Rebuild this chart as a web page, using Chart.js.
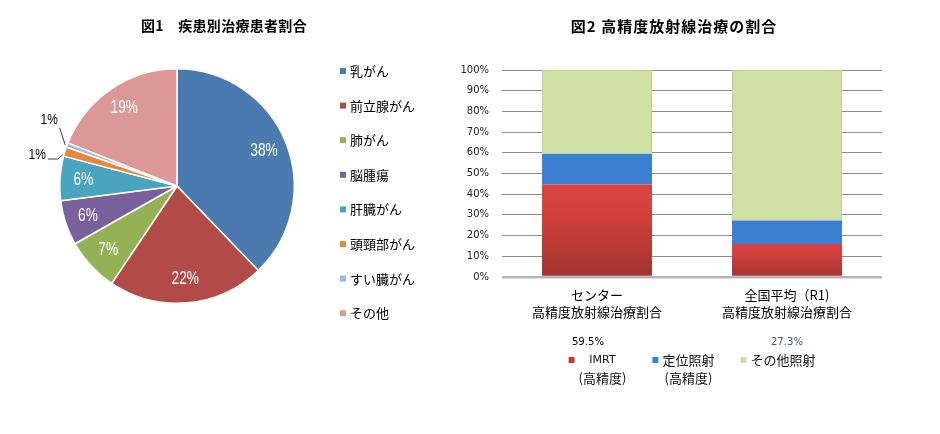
<!DOCTYPE html>
<html><head><meta charset="utf-8">
<script src="https://cdn.jsdelivr.net/npm/chart.js@4.4.1/dist/chart.umd.min.js"></script>
<style>
html,body{margin:0;padding:0;background:#fff;width:940px;height:434px;overflow:hidden;}
#pieBox{position:absolute;left:0;top:0;width:440px;height:434px;}
#barBox{position:absolute;left:440px;top:0;width:500px;height:434px;}
</style></head><body>
<div id="pieBox"><canvas id="pie"></canvas></div>
<div id="barBox"><canvas id="bar"></canvas></div>
<script>
// ---- data ----
const pieTitle = '図1　疾患別治療患者割合';
const pieLabels = ['乳がん','前立腺がん','肺がん','脳腫瘍','肝臓がん','頭頸部がん','すい臓がん','その他'];
const pieValues = [37.8, 21.6, 7.4, 6.2, 6.1, 1.3, 0.6, 19.0];

const barTitle = '図2 高精度放射線治療の割合';
const barCategories = [['センター','高精度放射線治療割合'], ['全国平均（R1)','高精度放射線治療割合']];
const seriesNames = [['IMRT','(高精度)'], ['定位照射','(高精度)'], ['その他照射']];
const imrtValues = [44.7, 16.0];
const stereoValues = [14.8, 11.3];
const otherValues = [40.5, 72.7];
const yTickMin = 0, yTickMax = 100, yTickStep = 10;

// ---- styles ----
const CJK = "'Noto Sans CJK JP', sans-serif";
const LAB = "'Liberation Sans', Arial, sans-serif";
const pieColors = ['#4a7ab0','#b24b48','#94b156','#77609b','#4aa4bf','#e9873c','#9db7de','#dc9896'];
const barColors = ['#c43c37','#3a7fd2','#cfe0a4'];

Chart.defaults.font.family = CJK;

function narrowText(ctx, txt, x, y, sx) {
  ctx.save();
  ctx.translate(x, y);
  ctx.scale(sx, 1);
  ctx.fillText(txt, 0, 0);
  ctx.restore();
}

// ---- pie chart ----
const pieDecor = {
  id: 'pieDecor',
  afterDatasetsDraw(chart) {
    const ctx = chart.ctx;
    const meta = chart.getDatasetMeta(0);
    const vals = chart.data.datasets[0].data;
    ctx.save();
    let smallIdx = 0;
    meta.data.forEach((arc, i) => {
      const p = arc.getProps(['x','y','startAngle','endAngle','outerRadius'], true);
      const mid = (p.startAngle + p.endAngle) / 2;
      const txt = Math.round(vals[i]) + '%';
      if (vals[i] >= 3) {
        const r = p.outerRadius * 0.8;
        ctx.fillStyle = '#fff';
        ctx.font = '18px ' + LAB;
        ctx.textAlign = 'center';
        ctx.textBaseline = 'middle';
        narrowText(ctx, txt, p.x + Math.cos(mid) * r, p.y + Math.sin(mid) * r, 0.76);
      } else {
        const ex = p.x + Math.cos(mid) * p.outerRadius;
        const ey = p.y + Math.sin(mid) * p.outerRadius;
        ctx.strokeStyle = '#404040';
        ctx.lineWidth = 1;
        ctx.fillStyle = '#000';
        ctx.font = '15px ' + LAB;
        ctx.textBaseline = 'middle';
        ctx.beginPath();
        if (smallIdx === 0) {
          ctx.moveTo(ex - 2, ey + 3);
          ctx.lineTo(ex - 7, ey + 7.5);
          ctx.lineTo(ex - 17, ey + 7.5);
          ctx.stroke();
          ctx.textAlign = 'right';
          narrowText(ctx, txt, ex - 19, ey + 3.5, 0.8);
        } else {
          ctx.moveTo(ex - 2, ey);
          ctx.lineTo(ex - 7.5, ey - 17);
          ctx.stroke();
          ctx.textAlign = 'center';
          narrowText(ctx, txt, ex - 18, ey - 25, 0.8);
        }
        smallIdx++;
      }
    });
    // legend
    ctx.textAlign = 'left';
    ctx.textBaseline = 'middle';
    ctx.font = '13px ' + CJK;
    chart.data.labels.forEach((lab, i) => {
      const y = 71 + i * 34.6;
      ctx.fillStyle = pieColors[i];
      ctx.fillRect(340, y - 3, 6, 6);
      ctx.fillStyle = '#000';
      ctx.fillText(lab, 350, y);
    });
    // title
    ctx.font = 'bold 14px ' + CJK;
    ctx.letterSpacing = '0.3px';
    ctx.textAlign = 'center';
    ctx.fillStyle = '#000';
    ctx.fillText(pieTitle, 224, 26);
    ctx.restore();
  }
};

new Chart(document.getElementById('pie'), {
  type: 'pie',
  data: { labels: pieLabels, datasets: [{ data: pieValues, backgroundColor: pieColors, borderColor: '#ffffff', borderWidth: 1.5, hoverOffset: 0 }] },
  options: {
    responsive: true, maintainAspectRatio: false, animation: false, events: [],
    layout: { padding: { left: 59, right: 440 - 59 - 236, top: 68, bottom: 434 - 68 - 236 } },
    plugins: { legend: { display: false }, tooltip: { enabled: false }, title: { display: false } }
  },
  plugins: [pieDecor]
});

// ---- bar chart ----
function redGradient(c) {
  const chart = c.chart;
  if (c.type !== 'data' || !chart.chartArea || !chart.scales.y) return barColors[0];
  const ys = chart.scales.y;
  const top = ys.getPixelForValue(c.raw);
  const bottom = ys.getPixelForValue(0);
  if (!isFinite(top) || !isFinite(bottom) || top === bottom) return barColors[0];
  const g = chart.ctx.createLinearGradient(0, top, 0, bottom);
  g.addColorStop(0, '#da443f');
  g.addColorStop(0.3, '#d3413c');
  g.addColorStop(1, '#a23431');
  return g;
}

const barDecor = {
  id: 'barDecor',
  afterDraw(chart) {
    const ctx = chart.ctx;
    const ca = chart.chartArea;
    const xs = chart.scales.x;
    ctx.save();
    // title
    ctx.font = 'bold 15px ' + CJK;
    ctx.letterSpacing = '1px';
    ctx.fillStyle = '#000';
    ctx.textAlign = 'center';
    ctx.textBaseline = 'middle';
    ctx.fillText(barTitle, 234, 26);
    ctx.letterSpacing = '0px';
    // totals of high-precision share
    const totColors = ['#000', '#3b5a8a'];
    const totOffsets = [-9, 0];
    ctx.font = '11px "DejaVu Sans", sans-serif';
    imrtValues.forEach((v, i) => {
      ctx.fillStyle = totColors[i];
      narrowText(ctx, (v + stereoValues[i]).toFixed(1) + '%', xs.getPixelForValue(i) + totOffsets[i], 342, 0.92);
    });
    // legend
    const sq = 6, gapSq = 4, gapItem = 26, rowY = 360, lineH = 18;
    const fontFor = (t) => /^[A-Za-z0-9]+$/.test(t) ? '11px "DejaVu Sans", sans-serif' : '13px ' + CJK;
    const items = chart.data.datasets.map((ds, i) => {
      const lines = Array.isArray(ds.label) ? ds.label : [ds.label];
      let w = 0;
      lines.forEach(t => { ctx.font = fontFor(t); w = Math.max(w, ctx.measureText(t).width); });
      return { lines, w, color: barColors[i] };
    });
    const total = items.reduce((s, it) => s + sq + gapSq + it.w, 0) + gapItem * (items.length - 1);
    let x = (ca.left + ca.right) / 2 - total / 2;
    items.forEach(it => {
      ctx.fillStyle = it.color;
      ctx.fillRect(x, rowY - sq / 2, sq, sq);
      const cx = x + sq + gapSq + it.w / 2;
      it.lines.forEach((t, k) => {
        ctx.font = fontFor(t);
        ctx.fillStyle = '#111';
        ctx.textAlign = 'center';
        ctx.fillText(t, cx, rowY + k * lineH);
      });
      x += sq + gapSq + it.w + gapItem;
    });
    ctx.restore();
  }
};

new Chart(document.getElementById('bar'), {
  type: 'bar',
  data: {
    labels: barCategories,
    datasets: [
      { label: seriesNames[0], data: imrtValues, backgroundColor: redGradient, borderWidth: 0 },
      { label: seriesNames[1], data: stereoValues, backgroundColor: barColors[1], borderWidth: 0 },
      { label: seriesNames[2], data: otherValues, backgroundColor: barColors[2], borderColor: '#bfd292', borderWidth: 1 }
    ]
  },
  options: {
    responsive: true, maintainAspectRatio: false, animation: false, events: [],
    layout: { padding: { left: 0, right: 58, top: 70, bottom: 97 } },
    datasets: { bar: { barPercentage: 110 / 190, categoryPercentage: 1 } },
    scales: {
      x: {
        stacked: true,
        grid: { display: false },
        border: { display: false },
        ticks: { font: { family: CJK, size: 13, lineHeight: 1.3 }, color: '#000', padding: 2, maxRotation: 0, autoSkip: false },
        afterFit: (s) => { s.height = 60; }
      },
      y: {
        stacked: true, min: yTickMin, max: yTickMax,
        ticks: { stepSize: yTickStep, callback: (v) => v + '%', font: { family: 'DejaVu Sans', size: 10 }, color: '#222', padding: 13 },
        grid: { drawTicks: false, color: (c) => c.tick && c.tick.value === 0 ? '#b5b5b5' : '#8c8c8c', lineWidth: (c) => c.tick && c.tick.value === 0 ? 2.5 : 1 },
        border: { display: false },
        afterFit: (s) => { s.width = 62; }
      }
    },
    plugins: { legend: { display: false }, tooltip: { enabled: false }, title: { display: false } }
  },
  plugins: [barDecor]
});
</script>
</body></html>
